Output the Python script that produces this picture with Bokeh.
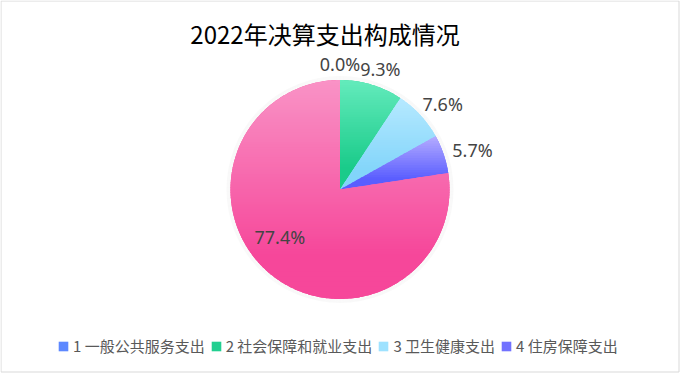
import math
import numpy as np
from bokeh.plotting import figure
from bokeh.models import Range1d, ColumnDataSource, Legend, LegendItem
from bokeh.embed import file_html
from bokeh.resources import INLINE
from bokeh.core.properties import value

# ---------------- data ----------------
title_text = "2022年决算支出构成情况"
categories = ["1 一般公共服务支出", "2 社会保障和就业支出", "3 卫生健康支出", "4 住房保障支出", "其他支出"]
shares = [0.0, 9.3, 7.6, 5.7, 77.4]
in_legend = [True, True, True, True, False]
inside_label = [False, False, False, False, True]

top_colors = ["#7ea2ff", "#64ebbc", "#b6e9ff", "#b5acff", "#f993c6"]
bottom_colors = ["#4a76ff", "#1acb8a", "#82d5fa", "#5a5eff", "#f6479a"]
legend_colors = ["#5d88ff", "#22cf90", "#9ee2ff", "#7272ff", "#f6479a"]

# ---------------- style / geometry ----------------
W, H = 680, 378
CX, CY, R = 339.5, 189.0, 109.5
LABEL_R = 128.0
LABEL_FONT = "Noto Sans"
CJK_FONT = "Noto Sans CJK SC"


def hex2rgb(h):
    h = h.lstrip("#")
    return tuple(int(h[i:i + 2], 16) for i in (0, 2, 4))


def mix(c1, c2, t):
    a, b = hex2rgb(c1), hex2rgb(c2)
    return "#%02x%02x%02x" % tuple(int(round(a[i] + (b[i] - a[i]) * t)) for i in range(3))


def pt(theta_deg, r):
    th = math.radians(theta_deg)
    return CX + r * math.sin(th), CY - r * math.cos(th)


def clip(poly, inside, inter):
    out = []
    n = len(poly)
    for i in range(n):
        cur, prev = poly[i], poly[i - 1]
        if inside(cur):
            if not inside(prev):
                out.append(inter(prev, cur))
            out.append(cur)
        elif inside(prev):
            out.append(inter(prev, cur))
    return out


def inter_y(yl):
    def f(a, b):
        t = (yl - a[1]) / (b[1] - a[1])
        return (a[0] + t * (b[0] - a[0]), yl)
    return f


p = figure(width=W, height=H, x_range=Range1d(0, W), y_range=Range1d(H, 0),
           x_axis_type=None, y_axis_type=None, output_backend="svg",
           toolbar_location=None, min_border=0)
p.grid.visible = False
p.outline_line_color = None
p.background_fill_color = "white"
p.border_fill_color = "white"

# outer border of the chart
p.quad(left=[0.5], right=[678.5], top=[0.5], bottom=[371.5],
       fill_color=None, line_color="#d9d9d9", line_width=1)

# soft shadow around pie
p.circle(x=[CX] * 4, y=[CY] * 4, radius=[R + 0.5, R + 1.5, R + 2.5, R + 3.5],
         fill_color=None, line_color="#000000", line_alpha=0.025, line_width=1.2)

total = sum(shares)
base_xs, base_ys = [], []
band_xs, band_ys, band_cols = [], [], []
lab_x, lab_y, lab_t = [], [], []
start = 0.0
for i, s in enumerate(shares):
    sweep = 360.0 * s / total
    end = start + sweep
    n = max(2, int(sweep) + 2)
    arc = [pt(a, R) for a in np.linspace(start, end, n)]
    poly = [(CX, CY)] + arc
    base_xs.append([q[0] for q in poly])
    base_ys.append([q[1] for q in poly])
    if sweep > 0:
        ys = [q[1] for q in poly]
        ymin, ymax = min(ys), max(ys)
        nb = max(4, int(math.ceil((ymax - ymin) / 2.5)))
        edges = np.linspace(ymin, ymax, nb + 1)
        for k in range(nb):
            y0, y1 = edges[k], min(ymax, edges[k + 1] + 1.0)
            c = clip(poly, lambda q, y0=y0: q[1] >= y0, inter_y(y0))
            if len(c) >= 3:
                c = clip(c, lambda q, y1=y1: q[1] <= y1, inter_y(y1))
            if len(c) >= 3:
                t = ((edges[k] + edges[k + 1]) / 2 - ymin) / (ymax - ymin)
                t = min(1.0, t / 0.8)
                band_xs.append([q[0] for q in c])
                band_ys.append([q[1] for q in c])
                band_cols.append(mix(top_colors[i], bottom_colors[i], t))
    mid = start + sweep / 2
    if inside_label[i]:
        lx, ly = pt(mid + 11, 0.7 * R)
    else:
        lx, ly = pt(mid, LABEL_R)
        lx += 12 * math.sin(math.radians(mid))
        ly += 2
    lab_x.append(lx)
    lab_y.append(ly)
    lab_t.append("%.1f%%" % s)
    start = end

base_src = ColumnDataSource(dict(xs=base_xs, ys=base_ys, color=legend_colors))
base = p.patches("xs", "ys", source=base_src, fill_color="color", line_alpha=0)

p.patches(band_xs, band_ys, fill_color=band_cols, line_alpha=0)

p.text(x=lab_x, y=lab_y, text=lab_t, text_align="center", text_baseline="middle",
       text_font=value(LABEL_FONT), text_font_size="18px", text_color="#444444")

p.text(x=[324.5], y=[33], text=[title_text], text_align="center", text_baseline="middle",
       text_font=value(CJK_FONT), text_font_size="24px", text_color="#000000")

items = [LegendItem(label=categories[i], renderers=[base], index=i)
         for i in range(len(categories)) if in_legend[i]]
legend = Legend(items=items, orientation="horizontal", location=(57, 22),
                glyph_width=12, glyph_height=12, label_standoff=4, spacing=5,
                padding=0, margin=0, border_line_color=None, background_fill_alpha=0,
                label_text_font=CJK_FONT, label_text_font_size="15px",
                label_text_color="#595959", label_height=20)
p.add_layout(legend)

open("out.html", "w").write(file_html(p, INLINE))
